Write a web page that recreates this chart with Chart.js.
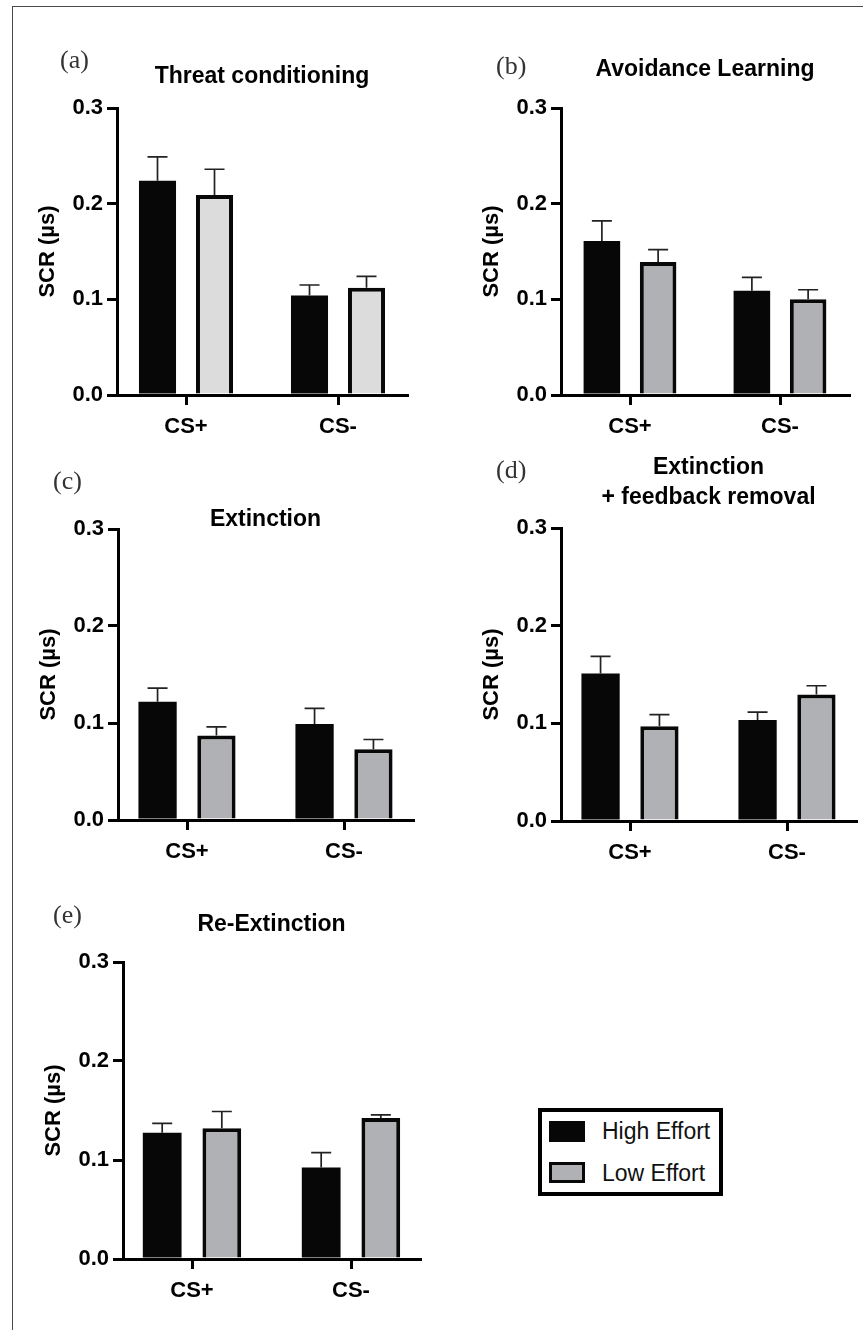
<!DOCTYPE html>
<html>
<head>
<meta charset="utf-8">
<title>SCR by effort</title>
<script src="https://cdn.jsdelivr.net/npm/chart.js@4/dist/chart.umd.min.js"></script>
<style>
  body { margin: 0; background: #fff; }
  #figure { position: relative; width: 863px; height: 1330px; overflow: hidden; background: #fff; }
  #frame { position: absolute; left: 12px; top: 6px; right: -4px; bottom: -4px;
           border-top: 1.5px solid #4a4a4a; border-left: 1.5px solid #4a4a4a; }
  canvas { position: absolute; }
  #legend { position: absolute; left: 538px; top: 1108px; width: 185px; height: 88px;
            box-sizing: border-box; border: 4px solid #000; background: #fff; }
  .swatch { position: absolute; left: 7px; width: 36px; height: 21px; box-sizing: border-box; }
  .label { position: absolute; left: 60px; font: 23px "Liberation Sans", Arial, sans-serif;
           line-height: 26px; color: #111; white-space: nowrap; }
</style>
</head>
<body>
<div id="figure">
  <div id="frame"></div>
  <canvas id="panelA"></canvas>
  <canvas id="panelB"></canvas>
  <canvas id="panelC"></canvas>
  <canvas id="panelD"></canvas>
  <canvas id="panelE"></canvas>
  <div id="legend"></div>
</div>
<script>
const categories = ['CS+', 'CS-'];
const seriesNames = ['High Effort', 'Low Effort'];
const yTicks = [0, 0.1, 0.2, 0.3];

// mean SCR and SEM for each phase, [CS+, CS-]
const threatHigh = [0.224, 0.104];
const threatHighErr = [0.025, 0.011];
const threatLow = [0.209, 0.112];
const threatLowErr = [0.027, 0.012];

const avoidHigh = [0.161, 0.109];
const avoidHighErr = [0.021, 0.014];
const avoidLow = [0.139, 0.100];
const avoidLowErr = [0.013, 0.010];

const extHigh = [0.122, 0.099];
const extHighErr = [0.014, 0.016];
const extLow = [0.087, 0.073];
const extLowErr = [0.009, 0.010];

const extFbHigh = [0.151, 0.1035];
const extFbHighErr = [0.0175, 0.008];
const extFbLow = [0.097, 0.1295];
const extFbLowErr = [0.012, 0.009];

const reExtHigh = [0.1275, 0.0925];
const reExtHighErr = [0.0095, 0.015];
const reExtLow = [0.132, 0.1425];
const reExtLowErr = [0.017, 0.003];

const HIGH_COLOR = '#070707';
const LOW_COLOR = '#b0b1b5';
const FONT = '"Liberation Sans", Arial, Helvetica, sans-serif';

const panels = [
  { id: 'panelA', letter: '(a)', letterAt: [60, 68], title: ['Threat conditioning'], titleBase: [83],
    high: threatHigh, highErr: threatHighErr, low: threatLow, lowErr: threatLowErr, lowColor: '#dcdcdc',
    plot: { left: 117, right: 407, top: 108.3, bottom: 395.7 } },
  { id: 'panelB', letter: '(b)', letterAt: [496, 74], title: ['Avoidance Learning'], titleBase: [76],
    high: avoidHigh, highErr: avoidHighErr, low: avoidLow, lowErr: avoidLowErr, lowColor: LOW_COLOR,
    plot: { left: 561, right: 849, top: 108.3, bottom: 395.7 } },
  { id: 'panelC', letter: '(c)', letterAt: [53, 489], title: ['Extinction'], titleBase: [526],
    high: extHigh, highErr: extHighErr, low: extLow, lowErr: extLowErr, lowColor: LOW_COLOR,
    plot: { left: 118, right: 413, top: 529.3, bottom: 820.7 } },
  { id: 'panelD', letter: '(d)', letterAt: [496, 478], title: ['Extinction', '+ feedback removal'], titleBase: [474, 504],
    high: extFbHigh, highErr: extFbHighErr, low: extFbLow, lowErr: extFbLowErr, lowColor: LOW_COLOR,
    plot: { left: 561, right: 856, top: 528.3, bottom: 821 } },
  { id: 'panelE', letter: '(e)', letterAt: [53, 923], title: ['Re-Extinction'], titleBase: [931],
    high: reExtHigh, highErr: reExtHighErr, low: reExtLow, lowErr: reExtLowErr, lowColor: LOW_COLOR,
    plot: { left: 123, right: 420, top: 961.7, bottom: 1259 } }
];
const panelById = {};
panels.forEach(p => { panelById[p.id] = p; });

const Y_AXIS_W = 100, X_AXIS_H = 50, PAD_TOP = 80, PAD_RIGHT = 20, PAD_BOTTOM = 5;
const EDGE = 69; // px between the y axis and the first group centre

// SEM whiskers: upward only, thin line with a short cap
const errorBars = {
  id: 'errorBars',
  afterDatasetsDraw(chart) {
    const ctx = chart.ctx;
    const y = chart.scales.y;
    ctx.save();
    ctx.strokeStyle = '#222';
    ctx.lineWidth = 1.7;
    chart.data.datasets.forEach((ds, i) => {
      chart.getDatasetMeta(i).data.forEach((bar, j) => {
        const top = y.getPixelForValue(ds.data[j].y + ds.errors[j]);
        ctx.beginPath();
        ctx.moveTo(bar.x, bar.y);
        ctx.lineTo(bar.x, top);
        ctx.moveTo(bar.x - 10, top);
        ctx.lineTo(bar.x + 10, top);
        ctx.stroke();
      });
    });
    ctx.restore();
  }
};

// panel letter and heading, given in figure coordinates
const panelText = {
  id: 'panelText',
  afterDraw(chart) {
    const p = panelById[chart.canvas.id];
    if (!p) return;
    const ctx = chart.ctx;
    const ox = p.plot.left - Y_AXIS_W, oy = p.plot.top - PAD_TOP;
    ctx.save();
    ctx.textBaseline = 'alphabetic';
    ctx.fillStyle = '#333';
    ctx.textAlign = 'left';
    ctx.font = '26px "Liberation Serif", "Times New Roman", serif';
    ctx.fillText(p.letter, p.letterAt[0] - ox, p.letterAt[1] - oy);
    ctx.fillStyle = '#000';
    ctx.textAlign = 'center';
    ctx.font = 'bold 23px ' + FONT;
    const cx = (chart.chartArea.left + chart.chartArea.right) / 2;
    p.title.forEach((line, k) => ctx.fillText(line, cx, p.titleBase[k] - oy));
    ctx.restore();
  }
};

function toPoints(values) {
  return values.map((v, i) => ({ x: i, y: v }));
}

panels.forEach(p => {
  const canvas = document.getElementById(p.id);
  const left = p.plot.left - Y_AXIS_W;
  const top = p.plot.top - PAD_TOP;
  canvas.width = Math.round(p.plot.right + PAD_RIGHT - left);
  canvas.height = Math.round(p.plot.bottom + X_AXIS_H + PAD_BOTTOM - top);
  canvas.style.left = left + 'px';
  canvas.style.top = top + 'px';

  const spacing = p.plot.right - p.plot.left - 2 * EDGE;

  new Chart(canvas.getContext('2d'), {
    type: 'bar',
    data: {
      datasets: [{
        label: seriesNames[0],
        data: toPoints(p.high),
        errors: p.highErr,
        backgroundColor: HIGH_COLOR,
        borderColor: HIGH_COLOR,
        borderWidth: 0
      }, {
        label: seriesNames[1],
        data: toPoints(p.low),
        errors: p.lowErr,
        backgroundColor: p.lowColor,
        borderColor: '#080808',
        borderWidth: 4
      }]
    },
    options: {
      responsive: false,
      animation: false,
      devicePixelRatio: 1,
      categoryPercentage: 0.75,
      barPercentage: 0.65,
      layout: { padding: { left: 0, top: PAD_TOP, right: PAD_RIGHT, bottom: PAD_BOTTOM } },
      plugins: { legend: { display: false }, tooltip: { enabled: false } },
      scales: {
        x: {
          type: 'linear',
          offset: false,
          min: -EDGE / spacing,
          max: 1 + EDGE / spacing,
          afterBuildTicks: s => { s.ticks = categories.map((c, i) => ({ value: i })); },
          afterFit: s => { s.height = X_AXIS_H; },
          ticks: {
            callback: v => categories[v],
            color: '#000',
            padding: 9,
            maxRotation: 0,
            autoSkip: false,
            font: { family: FONT, size: 22, weight: 'bold' }
          },
          grid: { offset: false, drawOnChartArea: false, tickLength: 10, lineWidth: 3, color: '#000' },
          border: { width: 3, color: '#000' }
        },
        y: {
          min: 0,
          max: 0.3,
          afterBuildTicks: s => { s.ticks = yTicks.map(v => ({ value: v })); },
          afterFit: s => { s.width = Y_AXIS_W; },
          ticks: {
            callback: v => v.toFixed(1),
            color: '#000',
            padding: 4,
            font: { family: FONT, size: 22, weight: 'bold' }
          },
          grid: { drawOnChartArea: false, tickLength: 10, lineWidth: 3, color: '#000' },
          border: { width: 3, color: '#000' },
          title: {
            display: true,
            text: 'SCR (µs)',
            color: '#000',
            padding: { top: 18, bottom: 0 },
            font: { family: FONT, size: 22, weight: 'bold' }
          }
        }
      }
    },
    plugins: [errorBars, panelText]
  });
});

// legend box for the two effort groups
const legend = document.getElementById('legend');
const swatchStyles = [
  { top: 9, fill: HIGH_COLOR, border: 'none' },
  { top: 50, fill: LOW_COLOR, border: '3.5px solid #080808' }
];
const labelTops = [6, 48];
seriesNames.forEach((name, i) => {
  const sw = document.createElement('div');
  sw.className = 'swatch';
  sw.style.top = swatchStyles[i].top + 'px';
  sw.style.background = swatchStyles[i].fill;
  sw.style.border = swatchStyles[i].border;
  legend.appendChild(sw);
  const lb = document.createElement('div');
  lb.className = 'label';
  lb.style.top = labelTops[i] + 'px';
  lb.textContent = name;
  legend.appendChild(lb);
});
</script>
</body>
</html>
